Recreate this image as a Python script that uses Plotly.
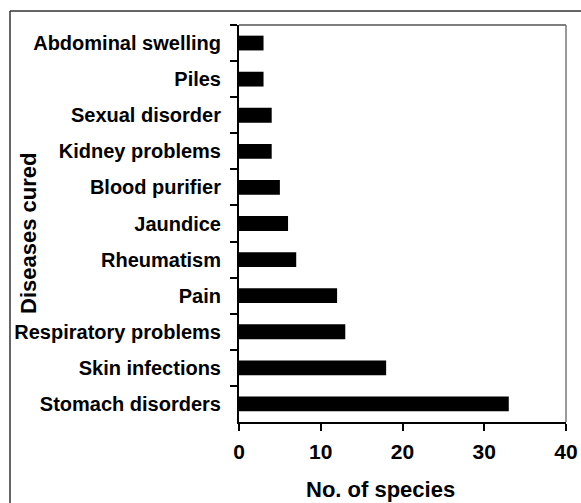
import plotly.graph_objects as go

categories = ["Abdominal swelling", "Piles", "Sexual disorder", "Kidney problems",
              "Blood purifier", "Jaundice", "Rheumatism", "Pain",
              "Respiratory problems", "Skin infections", "Stomach disorders"]
species = [3, 3, 4, 4, 5, 6, 7, 12, 13, 18, 33]
x_ticks = [0, 10, 20, 30, 40]

FONT = "Liberation Sans"

fig = go.Figure(go.Bar(
    x=species, y=categories, orientation="h",
    marker=dict(color="black", line=dict(width=0)),
))

L, R, T, B = 239, 15, 25, 81
W, H = 581, 503
pw, ph = W - L - R, H - T - B

def px_x(px):
    return (px - L) / pw

def px_y(py):
    return 1 - (py - T) / ph

fig.update_layout(
    width=W, height=H,
    margin=dict(l=L, r=R, t=T, b=B, pad=0),
    paper_bgcolor="white", plot_bgcolor="white",
    bargap=0.59,
    showlegend=False,
    font=dict(family=FONT, color="black"),
    xaxis=dict(
        range=[0, 40], tickvals=x_ticks, ticks="outside", ticklen=7, tickwidth=2,
        tickcolor="black", showline=True, linecolor="black", linewidth=2,
        showgrid=False, zeroline=False, automargin=False,
        tickfont=dict(family=FONT, size=21, color="black", weight="bold"),
        ticklabelstandoff=3,
    ),
    yaxis=dict(
        autorange="reversed", ticks="outside", ticklen=7, tickwidth=2,
        tickcolor="black", tickson="boundaries", showline=True, linecolor="black",
        linewidth=2, showgrid=False, zeroline=False, automargin=False,
        tickfont=dict(family=FONT, size=20, color="black", weight="bold"),
        ticklabelstandoff=12,
    ),
    shapes=[
        # plot frame top and right
        dict(type="line", xref="paper", yref="paper", x0=0, x1=1, y0=1, y1=1,
             line=dict(color="#555555", width=1.5)),
        dict(type="line", xref="paper", yref="paper", x0=1, x1=1, y0=0, y1=1,
             line=dict(color="#777777", width=1.5)),
        # outer chart border (left and top visible)
        dict(type="line", xref="paper", yref="paper", x0=px_x(10), x1=px_x(10),
             y0=px_y(11), y1=px_y(520), line=dict(color="#333333", width=1.5)),
        dict(type="line", xref="paper", yref="paper", x0=px_x(10), x1=px_x(600),
             y0=px_y(11), y1=px_y(11), line=dict(color="#333333", width=1.5)),
    ],
    annotations=[
        dict(text="No. of species", xref="paper", yref="paper",
             x=px_x(380), y=px_y(489), showarrow=False,
             font=dict(family=FONT, size=22, color="black", weight="bold"),
             xanchor="center", yanchor="middle"),
        dict(text="Diseases cured", xref="paper", yref="paper",
             x=px_x(28), y=px_y(233), showarrow=False, textangle=-90,
             font=dict(family=FONT, size=22, color="black", weight="bold"),
             xanchor="center", yanchor="middle"),
    ],
)

fig.write_html("out.html",
               config={"displayModeBar": False},
               post_script="document.body.style.margin='0';document.body.style.overflow='hidden';")
